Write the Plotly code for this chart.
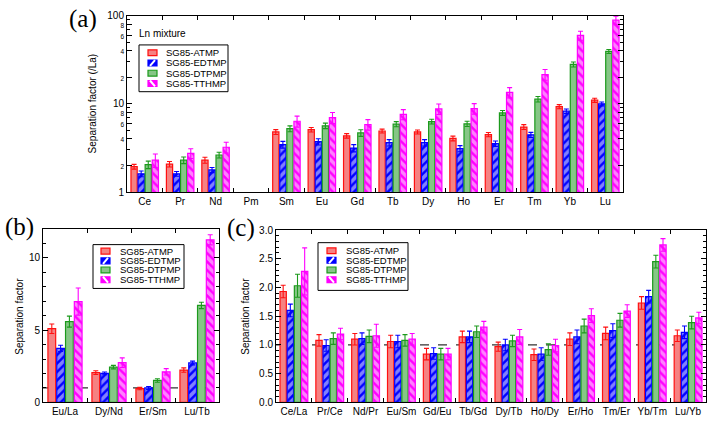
import plotly.graph_objects as go

W, H = 708, 424

series = ['SG85-ATMP', 'SG85-EDTMP', 'SG85-DTPMP', 'SG85-TTHMP']

# (a) separation factor vs La, log axis
elements = ['Ce', 'Pr', 'Nd', 'Pm', 'Sm', 'Eu', 'Gd', 'Tb', 'Dy', 'Ho', 'Er', 'Tm', 'Yb', 'Lu']
a_atmp = [1.94, 2.07, 2.30, None, 4.80, 5.10, 4.34, 4.92, 4.80, 4.05, 4.48, 5.46, 9.3, 11.0]
a_atmp_err = [0.12, 0.15, 0.18, None, 0.30, 0.30, 0.25, 0.25, 0.25, 0.25, 0.25, 0.35, 0.5, 0.6]
a_edtmp = [1.61, 1.61, 1.78, None, 3.45, 3.72, 3.15, 3.63, 3.63, 3.11, 3.54, 4.45, 8.26, 10.0]
a_edtmp_err = [0.12, 0.10, 0.12, None, 0.30, 0.30, 0.30, 0.30, 0.30, 0.25, 0.25, 0.30, 0.5, 0.5]
a_dtpmp = [2.04, 2.30, 2.63, None, 5.23, 5.64, 4.68, 5.89, 6.30, 5.94, 7.9, 11.3, 28.0, 39.3]
a_dtpmp_err = [0.20, 0.20, 0.20, None, 0.40, 0.40, 0.40, 0.40, 0.40, 0.40, 0.5, 0.8, 1.8, 2.0]
a_tthmp = [2.30, 2.75, 3.22, None, 6.35, 6.97, 5.83, 7.6, 8.77, 8.85, 13.5, 21.5, 59.7, 89.0]
a_tthmp_err = [0.40, 0.35, 0.45, None, 0.90, 1.00, 0.80, 1.0, 1.20, 1.20, 1.8, 3.0, 7.0, 10.0]

# (b) selected pairs
ratios_b = ['Eu/La', 'Dy/Nd', 'Er/Sm', 'Lu/Tb']
b_atmp = [5.10, 2.06, 0.96, 2.24]
b_atmp_err = [0.33, 0.13, 0.08, 0.15]
b_edtmp = [3.74, 2.01, 1.00, 2.73]
b_edtmp_err = [0.22, 0.10, 0.10, 0.13]
b_dtpmp = [5.59, 2.44, 1.52, 6.71]
b_dtpmp_err = [0.38, 0.12, 0.12, 0.22]
b_tthmp = [6.98, 2.75, 2.12, 11.25]
b_tthmp_err = [0.94, 0.33, 0.22, 0.35]

# (c) adjacent pairs
ratios_c = ['Ce/La', 'Pr/Ce', 'Nd/Pr', 'Eu/Sm', 'Gd/Eu', 'Tb/Gd', 'Dy/Tb', 'Ho/Dy',
            'Er/Ho', 'Tm/Er', 'Yb/Tm', 'Lu/Yb']
c_atmp = [1.93, 1.08, 1.10, 1.06, 0.84, 1.14, 0.97, 0.83, 1.10, 1.20, 1.73, 1.16]
c_atmp_err = [0.11, 0.10, 0.10, 0.11, 0.10, 0.10, 0.08, 0.10, 0.11, 0.11, 0.11, 0.10]
c_edtmp = [1.60, 0.99, 1.11, 1.06, 0.85, 1.14, 1.00, 0.84, 1.14, 1.25, 1.84, 1.22]
c_edtmp_err = [0.11, 0.10, 0.10, 0.11, 0.10, 0.10, 0.10, 0.11, 0.12, 0.12, 0.11, 0.11]
c_dtpmp = [2.03, 1.11, 1.15, 1.08, 0.84, 1.23, 1.07, 0.92, 1.33, 1.43, 2.45, 1.39]
c_dtpmp_err = [0.20, 0.10, 0.11, 0.10, 0.10, 0.10, 0.10, 0.10, 0.12, 0.12, 0.11, 0.11]
c_tthmp = [2.28, 1.19, 1.16, 1.10, 0.84, 1.31, 1.14, 0.99, 1.51, 1.59, 2.74, 1.47]
c_tthmp_err = [0.41, 0.10, 0.20, 0.10, 0.10, 0.10, 0.13, 0.11, 0.12, 0.11, 0.11, 0.10]

# style per series: fill, edge, pattern
styles = [
    dict(fill='#f58282', edge='#ff1010', shape=''),
    dict(fill='#0000ff', edge='#0000ff', shape='/'),
    dict(fill='#86c686', edge='#1c9a1c', shape=''),
    dict(fill='#ff00ff', edge='#ff00ff', shape='\\'),
]

FONT = 'Liberation Sans'


def px2paper(x, y):
    return x / W, 1 - y / H


def add_bars(fig, cats, vals, errs, xa, ya):
    for name, v, e, st in zip(series, vals, errs, styles):
        marker = dict(color=st['fill'], line=dict(color=st['edge'], width=1.2))
        if st['shape']:
            marker['pattern'] = dict(shape=st['shape'], fgcolor='white', bgcolor=st['fill'],
                                     fillmode='overlay', size=6, solidity=0.6)
        fig.add_trace(go.Bar(
            x=cats, y=v, name=name, marker=marker, xaxis=xa, yaxis=ya, showlegend=False,
            error_y=dict(type='data', array=e, color=st['edge'], thickness=1.1, width=2.5),
        ))


def add_legend(fig, box, x_icon, x_text, rows):
    x0, y0, x1, y1 = box
    px0, py0 = px2paper(x0, y0)
    px1, py1 = px2paper(x1, y1)
    fig.add_shape(type='rect', xref='paper', yref='paper', x0=px0, x1=px1, y0=py1, y1=py0,
                  line=dict(color='black', width=1), fillcolor='white', layer='above')
    for name, st, ry in zip(series, styles, rows):
        ix0, iy0 = px2paper(x_icon, ry - 3)
        ix1, iy1 = px2paper(x_icon + 9, ry + 3)
        fig.add_shape(type='rect', xref='paper', yref='paper', x0=ix0, x1=ix1, y0=iy1, y1=iy0,
                      line=dict(color=st['edge'], width=1.2), fillcolor=st['fill'], layer='above')
        if st['shape'] == '/':
            a0, b0 = px2paper(x_icon + 2, ry + 3)
            a1, b1 = px2paper(x_icon + 7, ry - 3)
            fig.add_shape(type='line', xref='paper', yref='paper', x0=a0, y0=b0, x1=a1, y1=b1,
                          line=dict(color='white', width=2), layer='above')
        elif st['shape'] == '\\':
            a0, b0 = px2paper(x_icon + 2, ry - 3)
            a1, b1 = px2paper(x_icon + 7, ry + 3)
            fig.add_shape(type='line', xref='paper', yref='paper', x0=a0, y0=b0, x1=a1, y1=b1,
                          line=dict(color='white', width=2), layer='above')
        tx, ty = px2paper(x_text, ry)
        fig.add_annotation(x=tx, y=ty, xref='paper', yref='paper', text=name, showarrow=False,
                           xanchor='left', yanchor='middle', borderpad=0,
                           font=dict(size=9.5, color='black'))


def ann(fig, x, y, text, size, family=FONT, angle=0):
    px, py = px2paper(x, y)
    fig.add_annotation(x=px, y=py, xref='paper', yref='paper', text=text, showarrow=False,
                       xanchor='center', yanchor='middle', textangle=angle,
                       font=dict(size=size, family=family, color='black'))


fig = go.Figure()
add_bars(fig, elements, [a_atmp, a_edtmp, a_dtpmp, a_tthmp],
         [a_atmp_err, a_edtmp_err, a_dtpmp_err, a_tthmp_err], 'x', 'y')
add_bars(fig, ratios_b, [b_atmp, b_edtmp, b_dtpmp, b_tthmp],
         [b_atmp_err, b_edtmp_err, b_dtpmp_err, b_tthmp_err], 'x2', 'y2')
add_bars(fig, ratios_c, [c_atmp, c_edtmp, c_dtpmp, c_tthmp],
         [c_atmp_err, c_edtmp_err, c_dtpmp_err, c_tthmp_err], 'x3', 'y3')

xcommon = dict(showline=True, linecolor='black', linewidth=1, mirror='ticks', ticks='inside',
               ticklen=4, tickcolor='black', tickson='boundaries', showgrid=False,
               tickangle=0, tickfont=dict(size=10, color='black'))
ycommon = dict(showline=True, linecolor='black', linewidth=1, mirror='ticks', ticks='inside',
               ticklen=5, tickcolor='black', showgrid=False, zeroline=False,
               tickfont=dict(size=10, color='black'))

small = '<span style="font-size:6.5px">%s</span>'
a_tickvals = [1, 2, 4, 6, 8, 10, 20, 40, 60, 80, 100]
a_ticktext = ['1', small % '2', small % '4', small % '6', small % '8', '10',
              small % '2', small % '4', small % '6', small % '8', '100']

fig.update_layout(
    width=W, height=H, margin=dict(l=0, r=0, t=0, b=0),
    paper_bgcolor='white', plot_bgcolor='white',
    font=dict(family=FONT, color='black'),
    barmode='group', bargap=0.2, bargroupgap=0.12,
    xaxis=dict(domain=[127 / W, 623 / W], anchor='y', **xcommon),
    yaxis=dict(domain=[1 - 192 / H, 1 - 11 / H], anchor='x', type='log', range=[0, 2],
               tickvals=a_tickvals, ticktext=a_ticktext,
               minor=dict(tickvals=[3, 5, 7, 9, 30, 50, 70, 90], ticks='inside', ticklen=3,
                          tickcolor='black'),
               **ycommon),
    xaxis2=dict(domain=[43 / W, 219 / W], anchor='y2', **xcommon),
    yaxis2=dict(domain=[1 - 408 / H, 1 - 230 / H], anchor='x2', range=[0, 12],
                tickvals=[0, 5, 10],
                minor=dict(dtick=1, ticks='inside', ticklen=3, tickcolor='black'),
                **ycommon),
    xaxis3=dict(domain=[276 / W, 706 / W], anchor='y3', **xcommon),
    yaxis3=dict(domain=[1 - 408 / H, 1 - 231 / H], anchor='x3', range=[0, 3],
                dtick=0.5, tickformat='.1f',
                minor=dict(dtick=0.1, ticks='inside', ticklen=3, tickcolor='black'),
                **ycommon),
)

# reference lines at 1.0
for xr, yr in [('x2', 'y2'), ('x3', 'y3')]:
    fig.add_shape(type='line', xref=xr + ' domain', yref=yr, x0=0, x1=1, y0=1, y1=1,
                  line=dict(color='#333333', width=1.2, dash='dash'), layer='below')

add_legend(fig, (139, 41, 228, 89), 148, 165, [49, 59.5, 70, 80.5])
add_legend(fig, (93, 246, 184, 291), 101, 119, [252.7, 262.7, 272, 282])
add_legend(fig, (318, 244, 408, 293), 327, 345, [252.3, 262, 272, 282])

ann(fig, 162, 29, 'Ln mixture', 10)
ann(fig, 92, 101, 'Separation factor (/La)', 10, angle=-90)
ann(fig, 20, 320, 'Separation factor', 10, angle=-90)
ann(fig, 246, 320, 'Separation factor', 10, angle=-90)
ann(fig, 83, 14, '(a)', 25, family='Liberation Serif')
ann(fig, 19, 228, '(b)', 25, family='Liberation Serif')
ann(fig, 241, 229, '(c)', 25, family='Liberation Serif')

# page has a default 8px body margin; drop it so the figure fills the window
fig.write_html("out.html", config={'displayModeBar': False},
               post_script="document.body.style.margin='0';")
